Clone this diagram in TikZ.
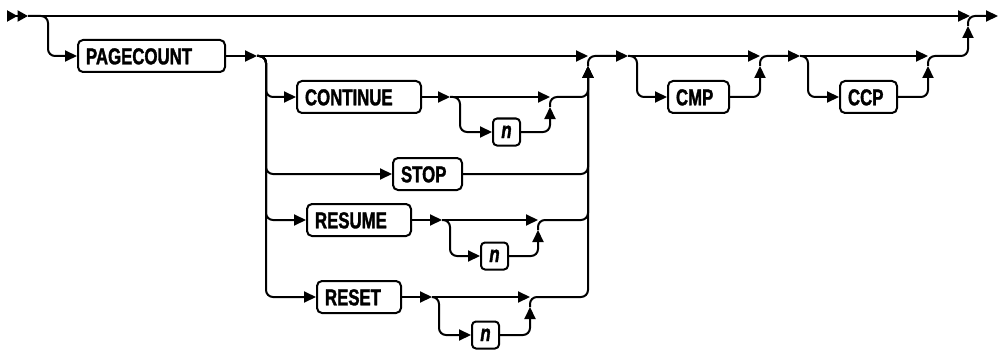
\documentclass[tikz,border=0pt]{standalone}
\usepackage{fontspec}
\newfontfamily\rrfont{Liberation Sans Bold}[FakeStretch=0.73, FakeBold=1.5]
\newfontfamily\rrvar{Liberation Sans Bold Italic}[FakeStretch=0.73, FakeBold=1.5]
\usetikzlibrary{arrows.meta}

\begin{document}
\begin{tikzpicture}[x=1pt, y=-1pt, line width=2pt,
    arr/.style={-{Triangle[length=12pt,width=11pt]}},
    rr/.style={rounded corners=7pt},
    kw/.style={draw, rounded corners=5pt, anchor=west, text width=#1, align=left,
        inner xsep=8pt, inner ysep=0pt, minimum height=32pt, text height=16.6pt, text depth=0pt,
        font=\rrfont\fontsize{23}{23}\selectfont},
    var/.style={draw, rounded corners=4pt, anchor=west, minimum width=27pt, minimum height=27pt,
        inner sep=0pt, text height=12pt, text depth=0pt,
        font=\rrvar\fontsize{23}{23}\selectfont}]
    \useasboundingbox (0,0) rectangle (1000,350);

    % Cac hop tu khoa
    \node[kw=131] (pc) at (77,56) {PAGECOUNT};
    \node[kw=108] (cont) at (296,97) {CONTINUE};
    \node[var] (n1) at (492,132) {n};
    \node[kw=53] (stop) at (392,174) {STOP};
    \node[kw=88] (resume) at (306,220) {RESUME};
    \node[var] (n2) at (480,256) {n};
    \node[kw=68] (reset) at (316,297) {RESET};
    \node[var] (n3) at (471,335) {n};
    \node[kw=45] (cmp) at (667,97) {CMP};
    \node[kw=41] (ccp) at (839,97) {CCP};

    % Diem re nhanh va diem gop
    \coordinate (start) at (7,16);
    \coordinate (s0) at (28,16);
    \coordinate (m0) at (970,16);
    \coordinate (fin) at (998,16);
    \coordinate (s1) at (257,56);
    \coordinate (j1) at (588,56);
    \coordinate (u1) at (588,66);
    \coordinate (s2) at (628,56);
    \coordinate (j2) at (760,56);
    \coordinate (u2) at (760,66);
    \coordinate (s3) at (800,56);
    \coordinate (j3) at (928,56);
    \coordinate (u3) at (928,66);
    \coordinate (u0) at (968,26);
    \coordinate (sc) at (450,97);
    \coordinate (jc) at (550,97);
    \coordinate (uc) at (550,107);
    \coordinate (sr) at (442,220);
    \coordinate (jr) at (538,220);
    \coordinate (ur) at (538,230);
    \coordinate (st) at (432,297);
    \coordinate (jt) at (530,297);
    \coordinate (ut) at (530,307);

    % Duong chinh
    \draw[-{Triangle[length=10.5pt,width=11pt]Triangle[length=10.5pt,width=11pt]}] (start) -- (s0);
    \draw[arr] (s0) -- (m0);
    \draw[arr, rr] (u0) |- (fin);
    \draw[arr, rr] (s0) -| (48,56) -- (pc.west);
    \draw[arr] (pc.east) -- (s1);
    \draw[arr] (s1) -- (j1);

    % Cac lua chon
    \draw[arr, rr] (s1) -| (266,97) -- (cont.west);
    \draw[arr, rr] (s1) -| (266,174) -- (stop.west);
    \draw[arr, rr] (s1) -| (266,220) -- (resume.west);
    \draw[arr, rr] (s1) -| (266,297) -- (reset.west);

    % CONTINUE n
    \draw[arr] (cont.east) -- (sc);
    \draw[arr] (sc) -- (jc);
    \draw[arr, rr] (sc) -| (460,132) -- (n1.west);
    \draw[arr, rr] (n1.east) -| (uc);
    \draw[arr, rr] (uc) |- (588,97) -- (u1);

    % STOP
    \draw[arr, rr] (stop.east) -| (u1);

    % RESUME n
    \draw[arr] (resume.east) -- (sr);
    \draw[arr] (sr) -- (jr);
    \draw[arr, rr] (sr) -| (450,256) -- (n2.west);
    \draw[arr, rr] (n2.east) -| (ur);
    \draw[arr, rr] (ur) |- (588,220) -- (u1);

    % RESET n
    \draw[arr] (reset.east) -- (st);
    \draw[arr] (st) -- (jt);
    \draw[arr, rr] (st) -| (439,335) -- (n3.west);
    \draw[arr, rr] (n3.east) -| (ut);
    \draw[arr, rr] (ut) |- (588,297) -- (u1);

    % CMP
    \draw[arr, rr] (u1) |- (s2);
    \draw[arr] (s2) -- (j2);
    \draw[arr, rr] (s2) -| (637,97) -- (cmp.west);
    \draw[arr, rr] (cmp.east) -| (u2);

    % CCP
    \draw[arr, rr] (u2) |- (s3);
    \draw[arr] (s3) -- (j3);
    \draw[arr, rr] (s3) -| (808,97) -- (ccp.west);
    \draw[arr, rr] (ccp.east) -| (u3);
    \draw[arr, rr] (u3) |- (968,56) -- (u0);
\end{tikzpicture}
\end{document}
